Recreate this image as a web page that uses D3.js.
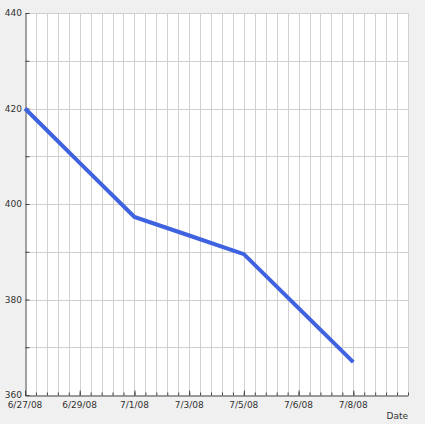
<!DOCTYPE html>
<html>
<head>
<meta charset="utf-8">
<script src="https://cdn.jsdelivr.net/npm/d3@7"></script>
<style>
  body { margin: 0; background: #f0f0f0; }
  svg text { font-family: "DejaVu Sans", Verdana, sans-serif; font-size: 9px; fill: #333; }
</style>
</head>
<body>
<div class="graph-container"></div>
<script>
// x categories (one per point, plus an empty slot at the end)
var dates = ['6/27/08', '6/29/08', '7/1/08', '7/3/08', '7/5/08', '7/6/08', '7/8/08'];
// values
var values = [420, 408.6, 397.3, 393.4, 389.5, 378.2, 366.9];
var yTicks = [360, 370, 380, 390, 400, 410, 420, 430, 440];
var yLabels = [360, 380, 400, 420, 440];

var svgWidth = 425;
var svgHeight = 424;
var plotLeft = 25, plotRight = 408, plotTop = 13, plotBottom = 395;
var minorPerSlot = 5;

var xScale = d3.scaleLinear()
    .domain([0, dates.length])
    .range([plotLeft, plotRight]);

var yScale = d3.scaleLinear()
    .domain([360, 440])
    .range([plotBottom, plotTop]);

var svg = d3.select('.graph-container').append('svg')
    .attr('width', svgWidth)
    .attr('height', svgHeight);

// plot background
svg.append('rect')
    .attr('x', plotLeft)
    .attr('y', plotTop)
    .attr('width', plotRight - plotLeft)
    .attr('height', plotBottom - plotTop)
    .attr('fill', '#fff');

// minor vertical grid lines
var minorX = d3.range(1, dates.length * minorPerSlot + 1).map(function(i) { return i / minorPerSlot; });
svg.append('g').selectAll('line')
    .data(minorX)
    .enter()
    .append('line')
    .attr('x1', function(d) { return Math.round(xScale(d)) + 0.5; })
    .attr('x2', function(d) { return Math.round(xScale(d)) + 0.5; })
    .attr('y1', plotTop)
    .attr('y2', plotBottom)
    .attr('stroke', '#d0d0d0');

// horizontal grid lines
svg.append('g').selectAll('line')
    .data(yTicks.slice(1))
    .enter()
    .append('line')
    .attr('x1', plotLeft)
    .attr('x2', plotRight)
    .attr('y1', function(d) { return Math.round(yScale(d)) + 0.5; })
    .attr('y2', function(d) { return Math.round(yScale(d)) + 0.5; })
    .attr('stroke', '#d0d0d0');

// y axis with inward ticks
var yAxis = d3.axisRight(yScale)
    .tickValues(yTicks)
    .tickSize(4)
    .tickSizeOuter(0)
    .tickFormat('');
svg.append('g')
    .attr('transform', 'translate(' + (plotLeft + 0.5) + ',0)')
    .call(yAxis)
    .call(function(g) { g.selectAll('line, path').attr('stroke', '#444'); });

svg.append('g').selectAll('text')
    .data(yLabels)
    .enter()
    .append('text')
    .attr('x', plotLeft - 3)
    .attr('y', function(d) { return yScale(d) + 3; })
    .style('text-anchor', 'end')
    .text(function(d) { return d; });

// x axis: small inward ticks at minor lines, longer at labels
var xAxis = d3.axisTop(xScale)
    .tickValues(minorX.concat([0]))
    .tickSize(3)
    .tickSizeOuter(0)
    .tickFormat('');
svg.append('g')
    .attr('transform', 'translate(0,' + (plotBottom + 0.5) + ')')
    .call(xAxis)
    .call(function(g) { g.selectAll('line, path').attr('stroke', '#444'); });

svg.append('g')
    .attr('transform', 'translate(0,' + (plotBottom + 0.5) + ')')
    .call(d3.axisTop(xScale).tickValues(d3.range(dates.length)).tickSize(5).tickSizeOuter(0).tickFormat(''))
    .call(function(g) {
        g.select('path').remove();
        g.selectAll('line').attr('stroke', '#444');
    });

svg.append('g').selectAll('text')
    .data(dates)
    .enter()
    .append('text')
    .attr('x', function(d, i) { return xScale(i); })
    .attr('y', plotBottom + 13)
    .style('text-anchor', 'middle')
    .text(function(d) { return d; });

// axis title
svg.append('text')
    .attr('x', plotRight)
    .attr('y', svgHeight - 5)
    .style('text-anchor', 'end')
    .text('Date');

// data line
var line = d3.line()
    .x(function(d, i) { return xScale(i); })
    .y(function(d) { return yScale(d); });

svg.append('path')
    .datum(values)
    .attr('d', line)
    .attr('fill', 'none')
    .attr('stroke', '#3f62e0')
    .attr('stroke-width', 4);
</script>
</body>
</html>
